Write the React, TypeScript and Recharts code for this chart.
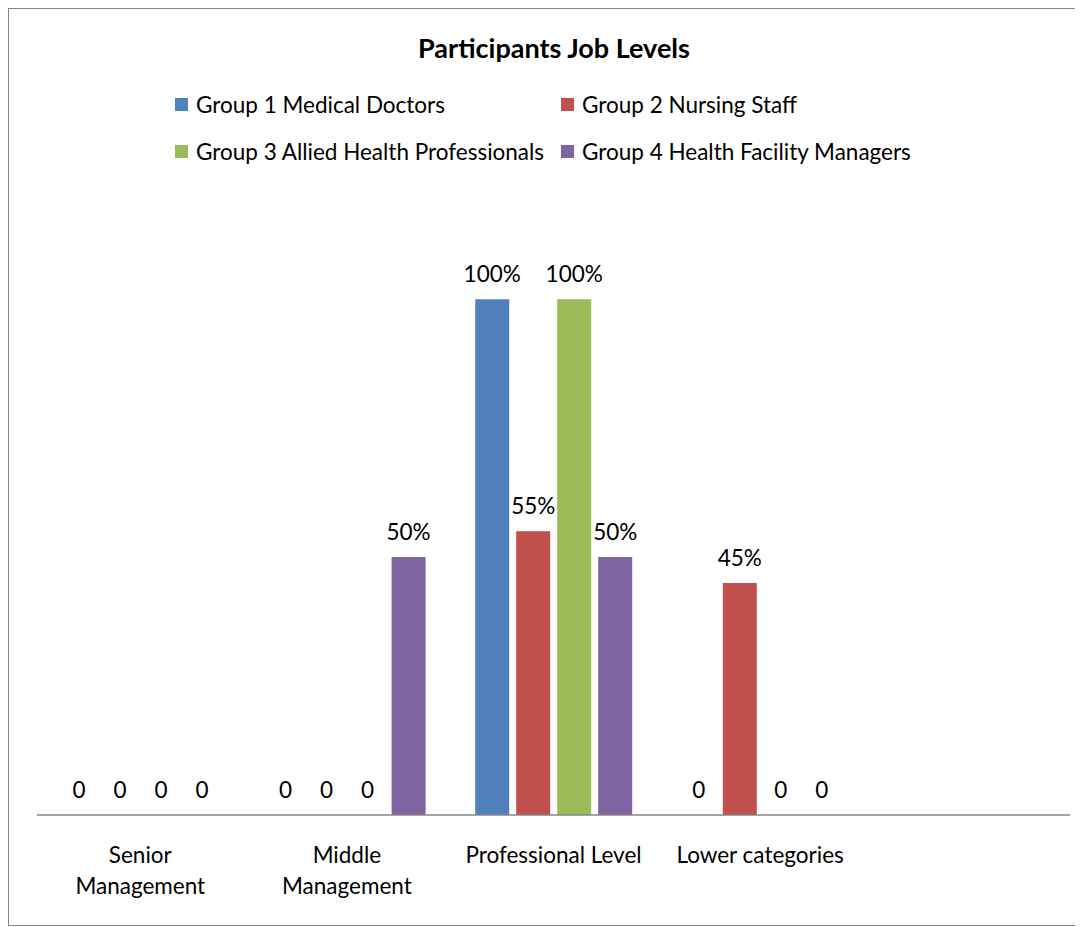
import React from "react";
import { BarChart, Bar, XAxis, YAxis, LabelList } from "recharts";

const categories = ["Senior Management", "Middle Management", "Professional Level", "Lower categories", ""];
const tickLines: string[][] = [["Senior", "Management"], ["Middle", "Management"], ["Professional Level"], ["Lower categories"], [""]];
const group1 = [0, 0, 100, 0, null];
const group2 = [0, 0, 55, 45, null];
const group3 = [0, 0, 100, 0, null];
const group4 = [0, 50, 50, 0, null];
const seriesNames = ["Group 1 Medical Doctors", "Group 2 Nursing Staff", "Group 3 Allied Health Professionals", "Group 4 Health Facility Managers"];
const seriesColors = ["#4F81BD", "#C0504D", "#9BBB59", "#8064A2"];
const seriesKeys = ["g1", "g2", "g3", "g4"];

const data = categories.map((c, i) => ({
  name: c,
  idx: i,
  g1: group1[i],
  g2: group2[i],
  g3: group3[i],
  g4: group4[i],
}));

const FONT = "Lato, 'Open Sans', sans-serif";
const FS = 22.5;

const fmt = (v: any) => {
  if (v === null || v === undefined) return "";
  return v === 0 ? "0" : `${v}%`;
};

const Tick = (props: any) => {
  const { x, y, payload } = props;
  const lines = tickLines[payload.index] || [payload.value];
  return (
    <g>
      {lines.map((l, i) => (
        <text key={i} x={x} y={y + 40 + i * 31} textAnchor="middle" fill="#000" fontSize={FS} fontFamily={FONT}>
          {l}
        </text>
      ))}
    </g>
  );
};

export default function App() {
  return (
    <div style={{ position: "relative", width: 1074, height: 916, borderLeft: "1px solid #868686", borderTop: "1px solid #868686", borderBottom: "1px solid #868686", background: "#fff", fontFamily: FONT }}>
      <style>{`body{overflow:hidden}`}</style>
      <div style={{ position: "absolute", left: 0, width: 1090, top: 22, textAlign: "center", fontWeight: "bold", fontSize: 27, color: "#000" }}>
        Participants Job Levels
      </div>
      {seriesNames.map((n, i) => {
        const col = i % 2;
        const row = Math.floor(i / 2);
        const left = col === 0 ? 166 : 552;
        const top = row === 0 ? 81 : 128;
        return (
          <div key={n} style={{ position: "absolute", left, top, height: 28, display: "flex", alignItems: "center", fontSize: FS, color: "#000", whiteSpace: "nowrap" }}>
            <span style={{ display: "inline-block", width: 13, height: 13, background: seriesColors[i], marginRight: 8 }} />
            {n}
          </div>
        );
      })}
      <BarChart width={1074} height={916} data={data} margin={{ top: 187, right: 13, left: 28, bottom: 0 }} barSize={34} barGap={7}>
        <XAxis dataKey="name" height={110} axisLine={{ stroke: "#868686", strokeWidth: 1.5 }} tickLine={false} tick={<Tick />} interval={0} />
        <YAxis hide domain={[0, 120]} width={0} />
        {seriesKeys.map((k, i) => (
          <Bar key={k} dataKey={k} name={seriesNames[i]} fill={seriesColors[i]} isAnimationActive={false} minPointSize={(v: any) => (v === 0 ? 0.01 : 0)}>
            <LabelList dataKey={k} position="top" offset={17} formatter={fmt} fill="#000" fontSize={FS} fontFamily={FONT} />
          </Bar>
        ))}
      </BarChart>
    </div>
  );
}
